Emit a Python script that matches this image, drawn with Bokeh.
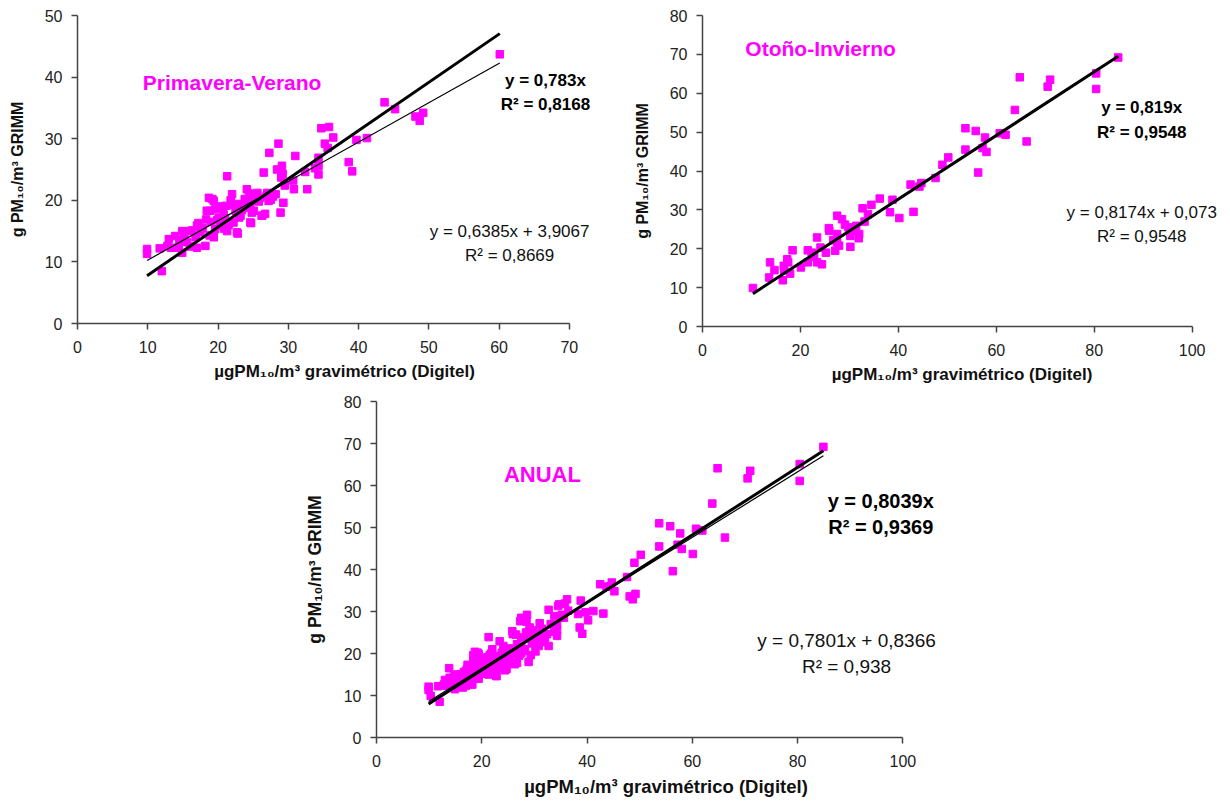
from bokeh.plotting import figure
from bokeh.models import Range1d, Label, FixedTicker
from bokeh.layouts import row, column
from bokeh.embed import file_html
from bokeh.resources import INLINE

# ---------------- data ----------------
pv_x = [9.9, 9.9, 11.7, 12.0, 12.8, 13.0, 13.3, 13.9, 14.4, 14.5, 14.9, 14.9, 15.2, 15.6, 15.8, 16.0,
        16.3, 16.8, 17.0, 17.0, 17.2, 17.5, 17.8, 18.2, 18.3, 18.4, 18.7, 18.8, 18.9, 19.0, 19.2, 19.4,
        19.4, 19.6, 19.6, 19.9, 20.1, 20.3, 20.4, 20.6, 20.8, 20.9, 21.0, 21.1, 21.3, 21.3, 21.5, 21.8,
        22.0, 22.0, 22.2, 22.5, 22.7, 22.7, 22.8, 23.0, 23.2, 23.4, 23.5, 23.8, 24.1, 24.2, 24.4, 24.6,
        24.6, 24.6, 24.7, 24.8, 25.1, 25.3, 25.5, 25.6, 25.8, 26.0, 26.2, 26.3, 26.5, 26.7, 26.9, 27.0,
        27.2, 27.3, 27.5, 27.8, 28.2, 28.4, 28.6, 28.9, 29.0, 29.1, 29.2, 29.3, 29.5, 30.7, 30.8, 31.0,
        32.4, 32.7, 33.8, 34.3, 34.3, 34.3, 34.7, 35.2, 35.6, 35.8, 36.4, 38.6, 39.1, 39.7, 41.2, 43.7,
        45.2, 48.1, 48.7, 49.2, 60.1]
pv_y = [12.1, 11.3, 12.2, 8.5, 12.6, 13.7, 12.3, 14.2, 12.3, 13.5, 15.0, 11.5, 14.2, 13.2, 15.0, 12.5,
        15.1, 14.0, 12.3, 15.9, 16.3, 14.8, 15.5, 12.6, 16.9, 18.3, 20.4, 14.3, 18.3, 16.5, 20.2, 19.9,
        14.0, 18.6, 15.3, 16.8, 17.2, 15.9, 19.0, 18.8, 17.7, 15.4, 17.0, 19.1, 15.0, 23.9, 16.0, 20.0,
        21.0, 19.2, 16.4, 18.3, 14.8, 19.4, 14.6, 17.2, 17.5, 18.4, 19.0, 20.2, 21.8, 18.8, 21.1, 20.2,
        19.4, 16.4, 16.3, 18.0, 18.3, 20.8, 20.0, 21.2, 19.8, 20.4, 17.5, 17.5, 24.5, 17.8, 20.7, 21.2,
        19.9, 27.7, 20.1, 20.6, 21.0, 25.0, 29.2, 18.0, 23.7, 25.6, 24.3, 19.6, 22.4, 23.2, 21.8, 27.2,
        24.6, 21.8, 25.2, 26.9, 25.6, 24.2, 31.7, 29.2, 28.5, 31.9, 30.2, 26.2, 24.7, 29.8, 30.1, 35.9,
        34.8, 33.6, 32.9, 34.2, 43.7]

oi_x = [84.9, 80.4, 80.4, 71.0, 70.5, 64.8, 63.8, 53.7, 55.8, 57.7, 60.7, 61.9, 66.2, 53.7, 57.2, 58.0,
        56.3, 50.2, 49.0, 47.6, 42.5, 44.7, 44.3, 43.1, 38.8, 36.2, 38.3, 40.2, 34.5, 32.7, 33.8, 33.1,
        27.5, 28.5, 29.1, 31.4, 32.0, 31.9, 30.2, 30.2, 27.5, 27.5, 27.1, 25.9, 25.8, 23.4, 24.1, 25.2,
        24.4, 23.4, 22.3, 21.5, 21.5, 20.1, 18.4, 17.5, 17.9, 16.6, 16.7, 16.4, 14.7, 13.8, 13.6, 10.3,
        17.3, 26.7, 27.9, 29.8, 31.0, 22.8]
oi_y = [69.2, 65.1, 61.1, 63.5, 61.7, 64.1, 55.7, 51.0, 50.3, 48.6, 49.7, 49.3, 47.6, 45.5, 45.9, 44.9,
        39.6, 43.5, 41.6, 38.2, 36.5, 36.9, 36.0, 29.5, 32.6, 32.9, 29.4, 27.9, 31.3, 30.4, 28.9, 27.0,
        28.5, 27.6, 26.2, 25.9, 23.8, 22.7, 23.3, 20.5, 23.8, 21.6, 19.5, 24.6, 25.3, 22.9, 20.3, 19.0,
        16.0, 16.5, 19.0, 19.6, 16.5, 15.2, 19.6, 16.5, 13.6, 15.6, 14.5, 11.9, 14.5, 16.5, 12.6, 9.9,
        17.3, 22.2, 20.8, 25.5, 24.6, 17.9]

an_x = pv_x + oi_x
an_y = pv_y + oi_y

# fits: (origin slope, linear slope, linear intercept)
pv_fit = (0.783, 0.6385, 3.9067)
oi_fit = (0.819, 0.8174, 0.073)
an_fit = (0.8039, 0.7801, 0.8366)

pv_ticks_x = [0, 10, 20, 30, 40, 50, 60, 70]
pv_ticks_y = [0, 10, 20, 30, 40, 50]
oi_ticks_x = [0, 20, 40, 60, 80, 100]
oi_ticks_y = [0, 10, 20, 30, 40, 50, 60, 70, 80]

XLABEL = "\u00b5gPM\u2081\u2080/m\u00b3 gravim\u00e9trico (Digitel)"
YLABEL = "g PM\u2081\u2080/m\u00b3 GRIMM"
FONT = "Liberation Sans"
MAG = "#FF00FF"


def make(xs, ys, fit, xr, xview, yr, tx, ty, texts, mbl, mbt, mbr, mbb, fw, fh, xts, yts):
    p = figure(output_backend="svg", toolbar_location=None,
               x_range=Range1d(xr[0], xview), y_range=Range1d(*yr),
               frame_width=fw, frame_height=fh,
               min_border_left=mbl, min_border_top=mbt,
               min_border_right=mbr, min_border_bottom=mbb)
    p.xgrid.visible = False
    p.ygrid.visible = False
    p.outline_line_color = None
    p.background_fill_color = "white"
    p.border_fill_color = "white"
    p.xaxis.bounds = xr
    for ax, ticks in ((p.xaxis[0], tx), (p.yaxis[0], ty)):
        ax.ticker = FixedTicker(ticks=ticks)
        ax.axis_line_color = "#444444"
        ax.axis_line_width = 1.5
        ax.major_tick_line_color = "#444444"
        ax.major_tick_line_width = 1.5
        ax.major_tick_out = 6
        ax.major_tick_in = 0
        ax.minor_tick_line_color = None
        ax.major_label_text_font = FONT
        ax.major_label_text_font_size = "16px"
        ax.major_label_text_color = "#222222"
        ax.axis_label_text_font = FONT
        ax.axis_label_text_font_style = "bold"
        ax.axis_label_text_color = "#111111"
    p.xaxis.axis_label_text_font_size = xts
    p.yaxis.axis_label_text_font_size = yts
    p.xaxis.axis_label = XLABEL
    p.yaxis.axis_label = YLABEL
    p.xaxis.major_label_standoff = 11
    p.yaxis.major_label_standoff = 9
    p.xaxis.axis_label_standoff = 6
    p.yaxis.axis_label_standoff = 16

    p.scatter(xs, ys, marker="square", size=7.5, fill_color=MAG, line_color=MAG)
    x0, x1 = min(xs), max(xs)
    s0, s1, b1 = fit
    p.line([x0, x1], [s0 * x0, s0 * x1], line_color="black", line_width=3)
    p.line([x0, x1], [s1 * x0 + b1, s1 * x1 + b1], line_color="black", line_width=1.2)

    for (txt, x, y, align, size, style, color) in texts:
        p.add_layout(Label(x=x, y=y, text=txt, text_align=align, text_baseline="middle",
                           text_font=FONT, text_font_size=size, text_font_style=style,
                           text_color=color))
    return p


p1 = make(pv_x, pv_y, pv_fit, (0, 70), 76, (0, 50), pv_ticks_x, pv_ticks_y, [
    ("Primavera-Verano", 9.3, 39.2, "left", "21px", "bold", MAG),
    ("y = 0,783x", 66.6, 39.5, "center", "17px", "bold", "black"),
    ("R\u00b2 = 0,8168", 66.6, 35.6, "center", "17px", "bold", "black"),
    ("y = 0,6385x + 3,9067", 61.5, 14.9, "center", "17px", "normal", "#111111"),
    ("R\u00b2 = 0,8669", 61.5, 11.0, "center", "17px", "normal", "#111111"),
], 77, 15, 1, 68, 534, 308, "17px", "16px")

p2 = make(oi_x, oi_y, oi_fit, (0, 100), 106, (0, 80), oi_ticks_x, oi_ticks_y, [
    ("Oto\u00f1o-Invierno", 8.75, 71.5, "left", "21px", "bold", MAG),
    ("y = 0,819x", 89.7, 56.3, "center", "17px", "bold", "black"),
    ("R\u00b2 = 0,9548", 89.7, 49.9, "center", "17px", "bold", "black"),
    ("y = 0,8174x + 0,073", 89.7, 29.3, "center", "17px", "normal", "#111111"),
    ("R\u00b2 = 0,9548", 89.7, 23.1, "center", "17px", "normal", "#111111"),
], 90, 15, 1, 65, 519, 311, "17px", "16px")

p3 = make(an_x, an_y, an_fit, (0, 100), 110, (0, 80), oi_ticks_x, oi_ticks_y, [
    ("ANUAL", 24.2, 62.6, "left", "22px", "bold", MAG),
    ("y = 0,8039x", 95.8, 56.4, "center", "20px", "bold", "black"),
    ("R\u00b2 = 0,9369", 95.8, 50.2, "center", "20px", "bold", "black"),
    ("y = 0,7801x + 0,8366", 89.3, 23.1, "center", "19px", "normal", "#111111"),
    ("R\u00b2 = 0,938", 89.3, 16.9, "center", "19px", "normal", "#111111"),
], 376, 10, 1, 1, 579, 336, "18.5px", "17.5px")

layout = column(row(p1, p2), p3)
open("out.html", "w").write(file_html(layout, INLINE))
